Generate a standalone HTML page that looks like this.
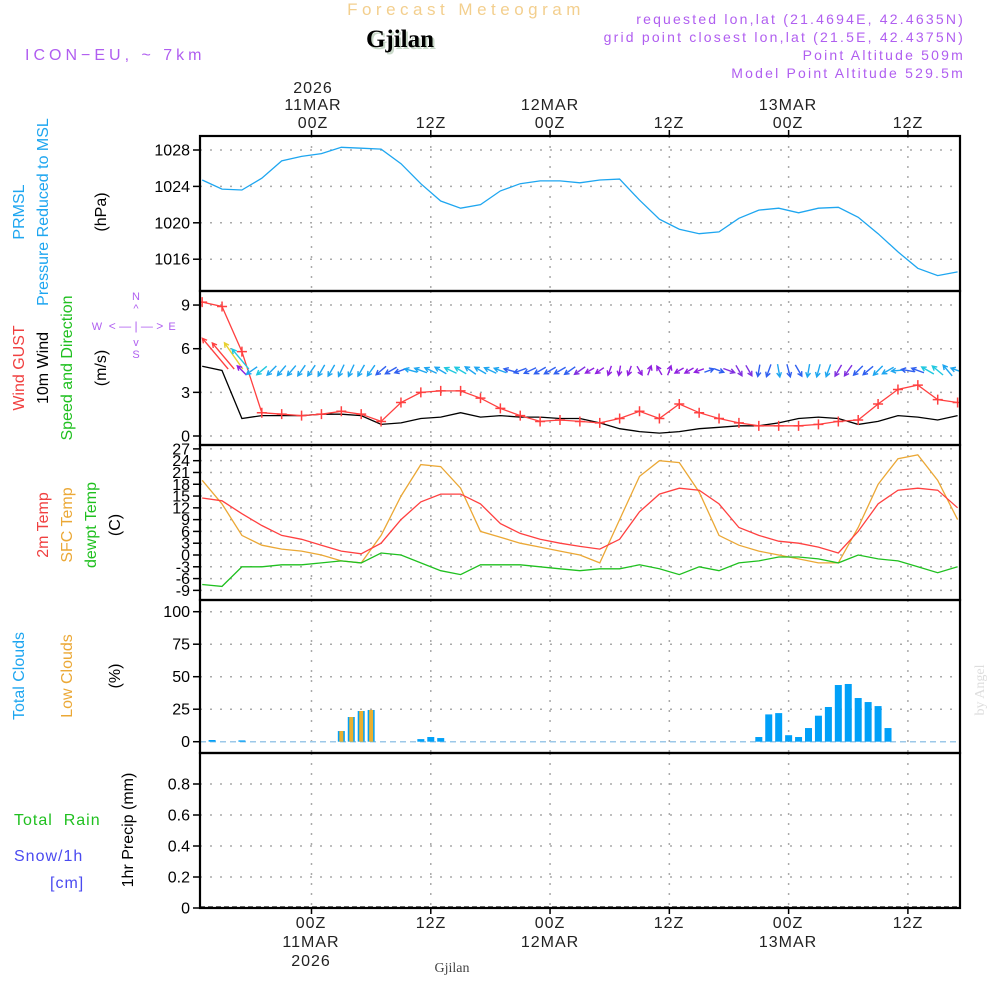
<!DOCTYPE html>
<html><head><meta charset="utf-8"><style>
html,body{margin:0;padding:0;background:#fff;}
svg{display:block;font-family:"Liberation Sans",sans-serif;}
</style></head><body>
<svg id="chart" width="1000" height="1000" viewBox="0 0 1000 1000" xmlns="http://www.w3.org/2000/svg">
<text x="466" y="15" font-size="17" fill="#f3cf8e" text-anchor="middle" letter-spacing="4.5">Forecast Meteogram</text>
<text x="402" y="49" font-size="25" font-weight="bold" fill="#c9d9c9" text-anchor="middle" font-family="Liberation Serif,serif">Gjilan</text>
<text x="400" y="47" font-size="25" font-weight="bold" fill="#000" text-anchor="middle" font-family="Liberation Serif,serif">Gjilan</text>
<text x="25" y="60" font-size="16" fill="#b05ef0" letter-spacing="4">ICON−EU, ~ 7km</text>
<g font-size="14" fill="#b05ef0" text-anchor="end" letter-spacing="2.2">
<text x="965" y="24">requested lon,lat (21.4694E, 42.4635N)</text>
<text x="965" y="42">grid point closest lon,lat (21.5E, 42.4375N)</text>
<text x="965" y="60">Point Altitude 509m</text>
<text x="965" y="78">Model Point Altitude 529.5m</text>
</g>
<g font-size="16" fill="#222" text-anchor="middle" letter-spacing="1">
<text x="313" y="93">2026</text><text x="313" y="110">11MAR</text><text x="313" y="128">00Z</text>
<text x="431" y="128">12Z</text>
<text x="550" y="110">12MAR</text><text x="550" y="128">00Z</text>
<text x="669" y="128">12Z</text>
<text x="788" y="110">13MAR</text><text x="788" y="128">00Z</text>
<text x="908" y="128">12Z</text>
</g>
<g font-size="16" fill="#222" text-anchor="middle" letter-spacing="1">
<text x="311" y="928">00Z</text><text x="311" y="947">11MAR</text><text x="311" y="966">2026</text>
<text x="431" y="928">12Z</text>
<text x="550" y="928">00Z</text><text x="550" y="947">12MAR</text>
<text x="669" y="928">12Z</text>
<text x="788" y="928">00Z</text><text x="788" y="947">13MAR</text>
<text x="908" y="928">12Z</text>
</g>
<text x="452" y="972" font-size="14" fill="#444" text-anchor="middle" font-family="Liberation Serif,serif">Gjilan</text>
<text transform="translate(984,690) rotate(-90)" font-size="14" fill="#ddd" text-anchor="middle" font-family="Liberation Serif,serif">by Angel</text>
<g font-size="16">
<text transform="translate(24,212) rotate(-90)" fill="#1ea6f0" text-anchor="middle">PRMSL</text>
<text transform="translate(48,212) rotate(-90)" fill="#1ea6f0" text-anchor="middle">Pressure Reduced to MSL</text>
<text transform="translate(106,212) rotate(-90)" fill="#000" text-anchor="middle">(hPa)</text>
</g>
<g font-size="16">
<text transform="translate(24,368) rotate(-90)" fill="#f04040" text-anchor="middle">Wind GUST</text>
<text transform="translate(48,368) rotate(-90)" fill="#000" text-anchor="middle">10m Wind</text>
<text transform="translate(72,368) rotate(-90)" fill="#20c020" text-anchor="middle">Speed and Direction</text>
<text transform="translate(106,368) rotate(-90)" fill="#000" text-anchor="middle">(m/s)</text>
</g>
<g fill="#b060f0" stroke="none" font-size="11">
<text x="136" y="300" text-anchor="middle">N</text>
<text x="136" y="358" text-anchor="middle">S</text>
<text x="97" y="330" text-anchor="middle">W</text>
<text x="172" y="330" text-anchor="middle">E</text>
<text x="136" y="330" text-anchor="middle" font-size="12">&lt; — | — &gt;</text>
<text x="136" y="312" text-anchor="middle">^</text>
<text x="136" y="346" text-anchor="middle">v</text>
</g>
<g font-size="16">
<text transform="translate(48,525) rotate(-90)" fill="#f04040" text-anchor="middle">2m Temp</text>
<text transform="translate(72,525) rotate(-90)" fill="#eba836" text-anchor="middle">SFC Temp</text>
<text transform="translate(96,525) rotate(-90)" fill="#20c020" text-anchor="middle">dewpt Temp</text>
<text transform="translate(120,525) rotate(-90)" fill="#000" text-anchor="middle">(C)</text>
</g>
<g font-size="16">
<text transform="translate(24,676) rotate(-90)" fill="#1ea6f0" text-anchor="middle">Total Clouds</text>
<text transform="translate(72,676) rotate(-90)" fill="#eba836" text-anchor="middle">Low Clouds</text>
<text transform="translate(120,676) rotate(-90)" fill="#000" text-anchor="middle">(%)</text>
</g>
<g font-size="16">
<text x="14" y="825" fill="#20c020" xml:space="preserve" letter-spacing="1">Total  Rain</text>
<text x="14" y="861" fill="#4a4af0" letter-spacing="1">Snow/1h</text>
<text x="50" y="888" fill="#4a4af0" letter-spacing="1">[cm]</text>
<text transform="translate(133,830) rotate(-90)" fill="#000" text-anchor="middle">1hr Precip (mm)</text>
</g>
<g id="plot"></g>
</svg>
<script>
const hours2 = [-11,-9,-7,-5,-3,-1,1,3,5,7,9,11,13,15,17,19,21,23,25,27,29,31,33,35,37,39,41,43,45,47,49,51,53,55,57,59,61,63,65];
const pressure = [1024.7,1023.7,1023.6,1024.9,1026.8,1027.3,1027.6,1028.3,1028.2,1028.1,1026.5,1024.3,1022.4,1021.6,1022.0,1023.5,1024.3,1024.6,1024.6,1024.4,1024.7,1024.8,1022.5,1020.4,1019.3,1018.8,1019.0,1020.5,1021.4,1021.6,1021.1,1021.6,1021.7,1020.6,1018.8,1016.8,1015.0,1014.2,1014.6];
const gust = [9.2,8.9,5.8,1.6,1.5,1.4,1.5,1.7,1.5,1.0,2.3,3.0,3.1,3.1,2.6,1.9,1.4,1.0,1.1,1.0,0.9,1.2,1.7,1.2,2.2,1.6,1.2,0.9,0.7,0.7,0.7,0.8,1.0,1.1,2.2,3.2,3.5,2.5,2.3];
const wind10 = [4.8,4.5,1.2,1.4,1.4,1.4,1.5,1.5,1.4,0.8,0.9,1.2,1.3,1.6,1.3,1.4,1.3,1.3,1.2,1.2,0.9,0.5,0.3,0.2,0.3,0.5,0.6,0.7,0.7,0.9,1.2,1.3,1.2,0.8,1.0,1.4,1.3,1.1,1.4];
const temp2m = [14.5,13.8,10.5,7.5,5,4,2.5,1,0.3,3,9,13.5,15.5,15.5,13,8,5.5,4,3,2.2,1.5,4,11,15.5,17,16.5,13,7,5,3.5,3,2,0.5,6,13,16.5,17,16.5,12];
const tempSfc = [19,13,5,2.5,1.5,1,0,-1.5,-2,5,15,23,22.5,17,6,4.5,3,2,1,0,-2,9,20,24,23.5,16,5,2.5,1,0,-1,-2,-2,7,18,24.5,25.5,19,9];
const dewpt = [-7.5,-8,-3,-3,-2.5,-2.5,-2,-1.5,-2,0.5,0,-2,-4,-5,-2.5,-2.5,-2.5,-3,-3.5,-4,-3.5,-3.5,-2.5,-3.5,-5,-3,-4,-2,-1.5,-0.5,-0.5,-1,-2,0,-1,-1.5,-3,-4.5,-3];
const arrowHours = [-11,-10,-9,-8,-7,-6,-5,-4,-3,-2,-1,0,1,2,3,4,5,6,7,8,9,10,11,12,13,14,15,16,17,18,19,20,21,22,23,24,25,26,27,28,29,30,31,32,33,34,35,36,37,38,39,40,41,42,43,44,45,46,47,48,49,50,51,52,53,54,55,56,57,58,59,60,61,62,63,64,65];
const arrowDir = [320,320,325,320,315,235,230,225,220,220,215,215,210,210,205,205,210,215,230,240,250,285,290,295,300,295,300,305,300,295,290,285,250,245,240,240,240,235,235,240,235,200,190,200,150,20,330,20,240,240,250,70,110,110,150,150,190,200,170,165,150,190,195,200,210,215,225,230,225,240,265,280,290,300,310,320,290];
const arrowLen = [40,34,32,26,13,13,13,13,13,13,13,13,13,13,13,13,13,13,13,13,13,13,13,13,13,13,13,13,13,13,13,13,13,13,13,13,13,13,13,10,10,10,10,10,10,10,10,10,10,10,10,10,10,12,12,12,12,13,13,13,13,13,13,13,13,13,13,13,13,13,13,13,13,14,14,14,14];
const arrowCol = ['#ff4040','#ff4040','#e8d030','#20c8e0','#9020e0','#1ea6f0','#20c8e0','#1ea6f0','#1ea6f0','#1ea6f0','#1ea6f0','#1ea6f0','#1ea6f0','#1ea6f0','#1ea6f0','#1ea6f0','#1ea6f0','#1ea6f0','#3060f0','#3060f0','#3060f0','#1ea6f0','#1ea6f0','#1ea6f0','#1ea6f0','#20c8e0','#20c8e0','#1ea6f0','#1ea6f0','#1ea6f0','#1ea6f0','#3060f0','#3060f0','#3060f0','#3060f0','#3060f0','#3060f0','#3060f0','#8030e0','#9020e0','#9020e0','#9020e0','#9020e0','#9020e0','#9020e0','#9020e0','#9020e0','#9020e0','#9020e0','#9020e0','#9020e0','#3060f0','#3060f0','#8030e0','#8030e0','#8030e0','#3060f0','#3060f0','#1ea6f0','#3060f0','#3060f0','#1ea6f0','#1ea6f0','#1ea6f0','#8030e0','#8030e0','#3060f0','#3060f0','#1ea6f0','#1ea6f0','#1ea6f0','#3060f0','#3060f0','#20c8e0','#20c8e0','#1ea6f0','#1ea6f0'];
const cloudHours = [-10,-7,3,4,5,6,11,12,13,45,46,47,48,49,50,51,52,53,54,55,56,57,58];
const cloudTotal = [1.3,1,8.2,19,23.6,24.4,2,3.6,2.8,3.6,21,22,5,3.6,10.5,20,26.7,43.6,44.4,33.6,30.5,27.4,10.5];
const cloudLow = [0,0,8.2,19,23.6,24.4,0,0,0,0,0,0,0,0,0,0,0,0,0,0,0,0,0];
const precipHours = [];
const precipValues = [];
const pressTicks = [1028,1024,1020,1016];
const windTicks = [0,3,6,9];
const tempTicks = [-9,-6,-3,0,3,6,9,12,15,18,21,24,27];
const cloudTicks = [0,25,50,75,100];
const precipTicks = [0,0.2,0.4,0.6,0.8];
const timeGridHours = [0,12,24,36,48,60];

const L=200,R=960;
const X=t=>311.5+t*9.94;
const Yp=p=>150+(1028-p)*9.1;
const Yw=v=>436-v*14.55;
const Yt=T=>555-T*3.93;
const Yc=c=>741.7-c*1.3;
const Yr=r=>908-r*155;
const panels=[[136,291],[291,445],[445,600],[600,753],[753,908]];
const NS='http://www.w3.org/2000/svg';
const plot=document.getElementById('plot');
function mk(tag,attrs,parent){const e=document.createElementNS(NS,tag);for(const k in attrs)e.setAttribute(k,attrs[k]);(parent||plot).appendChild(e);return e;}
const clip=mk('clipPath',{id:'pc'});mk('rect',{x:L,y:136,width:R-L,height:772},clip);

function hgrid(ticks,Y,fmt,name){
  ticks.forEach(v=>{
    const y=Y(v);
    const g=mk('line',{x1:L,x2:R,y1:y,y2:y,stroke:'#aaa','stroke-width':1.5,'stroke-dasharray':'2 8'});
    
    
    const tk=mk('line',{x1:L-7,x2:L,y1:y,y2:y,stroke:'#000','stroke-width':1.5});
    
    
    const t=mk('text',{x:L-10,y:y+5.5,'font-size':16,'text-anchor':'end',fill:'#000'});
    t.textContent=fmt(v);
    
    
  });
}
hgrid(pressTicks,Yp,v=>v,'pressure-axis');
hgrid(windTicks,Yw,v=>v,'wind-axis');
hgrid(tempTicks,Yt,v=>v,'temp-axis');
hgrid(cloudTicks,Yc,v=>v,'cloud-axis');
hgrid(precipTicks,Yr,v=>v===0?'0':v.toFixed(1),'precip-axis');
panels.forEach(([a,b])=>{
  timeGridHours.forEach(h=>{
    const x=X(h);
    const g=mk('line',{x1:x,x2:x,y1:a,y2:b,stroke:'#aaa','stroke-width':1.5,'stroke-dasharray':'2 8'});
    
    
  });
});
timeGridHours.forEach(h=>{
  const x=X(h);
  const a=mk('line',{x1:x,x2:x,y1:130,y2:136,stroke:'#000','stroke-width':1.5});
  
  
  const b=mk('line',{x1:x,x2:x,y1:908,y2:914,stroke:'#000','stroke-width':1.5});
  
  
});

function line(hs,vals,Y,color,name,w){
  const d=hs.map((h,i)=>(i?'L':'M')+X(h).toFixed(1)+','+Y(vals[i]).toFixed(1)).join('');
  const p=mk('path',{d:d,fill:'none',stroke:color,'stroke-width':w||1.3,'clip-path':'url(#pc)'});
  
  
  return p;
}
line(hours2,pressure,Yp,'#1ea6f0','pressure-line');
line(hours2,wind10,Yw,'#000','wind-10m-line');
line(hours2,gust,Yw,'#ff4040','wind-gust-line');
hours2.forEach((h,i)=>{
  const x=X(h),y=Yw(gust[i]);
  const m=mk('path',{d:`M${x-5},${y}h10M${x},${y-5}v10`,stroke:'#ff4040','stroke-width':1.5,'clip-path':'url(#pc)'});
  
  
});
line(hours2,tempSfc,Yt,'#eba836','sfc-temp-line');
line(hours2,temp2m,Yt,'#ff4040','temp-2m-line');
line(hours2,dewpt,Yt,'#20c020','dewpoint-line');

arrowHours.forEach((h,i)=>{
  const a=arrowDir[i]*Math.PI/180, len=arrowLen[i];
  const dx=Math.sin(a)*len, dy=-Math.cos(a)*len;
  let x0,y0;
  if(len>20){x0=X(h)+len*0.65;y0=Yw(4.6);} else {x0=X(h)-dx/2;y0=Yw(4.5)-dy/2;}
  const x1=x0+dx,y1=y0+dy;
  const hl=5,ang=Math.atan2(dy,dx);
  const ax=x1-hl*Math.cos(ang-0.5),ay=y1-hl*Math.sin(ang-0.5);
  const bx=x1-hl*Math.cos(ang+0.5),by=y1-hl*Math.sin(ang+0.5);
  const p=mk('path',{d:`M${x0},${y0}L${x1},${y1}M${ax},${ay}L${x1},${y1}L${bx},${by}`,stroke:arrowCol[i],'stroke-width':1.4,fill:'none','clip-path':'url(#pc)'});
  
  
});

const base=mk('line',{x1:L,x2:R,y1:Yc(0),y2:Yc(0),stroke:'#9cc8e8','stroke-width':1.5,'stroke-dasharray':'6 4'});


cloudHours.forEach((h,i)=>{
  const x=X(h);
  const b=mk('rect',{x:x-3.5,y:Yc(cloudTotal[i]),width:7,height:Yc(0)-Yc(cloudTotal[i]),fill:'#00a0f8'});
  
  
  if(cloudLow[i]>0){
    const o=mk('rect',{x:x-2,y:Yc(cloudLow[i]),width:4,height:Yc(0)-Yc(cloudLow[i]),fill:'#eab02e'});
    
    
  }
});
const pb=mk('line',{x1:L,x2:R,y1:Yr(0)-1,y2:Yr(0)-1,stroke:'#333','stroke-width':1.5,'stroke-dasharray':'5 3'});


precipHours.forEach((h,i)=>{
  const b=mk('rect',{x:X(h)-3.5,y:Yr(precipValues[i]),width:7,height:Yr(0)-Yr(precipValues[i]),fill:'#20c020'});
  
  
});

panels.forEach(([a,b],i)=>{
  const r=mk('rect',{x:L,y:a,width:R-L,height:b-a,fill:'none',stroke:'#000','stroke-width':2.2});
  
  
});
</script>
</body></html>
